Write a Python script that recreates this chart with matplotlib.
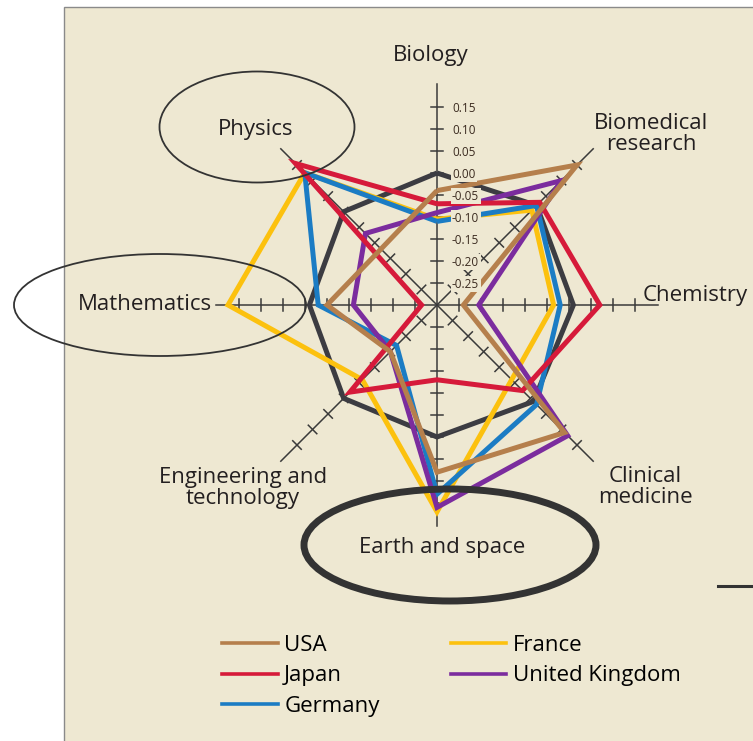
import numpy as np
import matplotlib
matplotlib.use("Agg")
import matplotlib.pyplot as plt
from matplotlib.patches import Ellipse, Rectangle
from matplotlib.lines import Line2D

plt.rcParams['font.family'] = ['Open Sans', 'DejaVu Sans']

# axes of the radar, clockwise from the top
fields = ['Biology', 'Biomedical\nresearch', 'Chemistry', 'Clinical\nmedicine',
          'Earth and space', 'Engineering and\ntechnology', 'Mathematics', 'Physics']

# values (same order as fields)
usa     = [-0.04, 0.15, -0.24, 0.11, 0.08, -0.15, -0.05, -0.12]
japan   = [-0.07, 0.03, 0.07, -0.025, -0.13, -0.02, -0.265, 0.155]
germany = [-0.11, 0.02, -0.02, 0.02, 0.13, -0.17, -0.03, 0.125]
france  = [-0.105, 0.005, -0.035, -0.06, 0.17, -0.06, 0.175, 0.125]
uk      = [-0.09, 0.10, -0.205, 0.12, 0.16, -0.15, -0.11, -0.07]
world   = [0.00, 0.02, 0.01, 0.01, 0.00, 0.00, -0.01, 0.00]   # dark line, not in legend

tick_vals = [-0.25, -0.20, -0.15, -0.10, -0.05, 0.00, 0.05, 0.10, 0.15]
tick_text = ['-0.25', '-0.20', '-0.15', '-0.10', '-0.05', '0.00', '0.05', '0.10', '0.15']

RMIN, RMAX = -0.30, 0.20
CX, CY = 437, 305          # centre of the radar in pixels
SCALE = 440                # pixels per unit
BEIGE = '#eee8d2'
INK = '#231f20'
AXC = '#3a3a3a'

angles = np.deg2rad(np.arange(len(fields)) * 45)


def polar(vals, ang):
    r = (np.asarray(vals) - RMIN) * SCALE
    return CX + r * np.sin(ang), CY - r * np.cos(ang)


fig = plt.figure(figsize=(7.53, 7.41), dpi=100)
fig.patch.set_facecolor('white')
ax = fig.add_axes([0, 0, 1, 1])
ax.set_xlim(0, 753)
ax.set_ylim(741, 0)
ax.axis('off')

# beige panel
ax.add_patch(Rectangle((64, 7), 700, 740, facecolor=BEIGE, edgecolor='#8a8a8a', lw=1, zorder=0))

# spokes and ticks
for a in angles:
    x, y = polar([RMIN, RMAX + 0.002], np.array([a, a]))
    ax.plot(x, y, color=AXC, lw=1.1, zorder=1)
    for tv in tick_vals:
        tx, ty = polar([tv], np.array([a]))
        px, py = np.cos(a) * 6, np.sin(a) * 6
        ax.plot([tx[0] - px, tx[0] + px], [ty[0] - py, ty[0] + py], color=AXC, lw=1.1, zorder=1)

series = [
    (world, '#3c3c42', None, 3),
    (france, '#fcc10e', 'France', 4),
    (germany, '#1b7cc4', 'Germany', 5),
    (uk, '#7b2c9e', 'United Kingdom', 6),
    (japan, '#d61a3a', 'Japan', 7),
    (usa, '#b57f4c', 'USA', 8),
]
colors = {}
for vals, col, name, z in series:
    x, y = polar(vals + vals[:1], np.append(angles, angles[0]))
    ax.plot(x, y, color=col, lw=3.6, zorder=z, solid_joinstyle='miter', solid_capstyle='butt')
    if name:
        colors[name] = col

# tick labels on the Biology spoke
for tv, tt in zip(tick_vals, tick_text):
    tx, ty = polar([tv], np.array([0.0]))
    ax.text(tx[0] + 15, ty[0] + 1, tt, fontsize=8.5, color='#3b2b20', ha='left', va='center',
            zorder=9, bbox=dict(boxstyle='square,pad=0.12', fc=BEIGE, ec='none'))

# field labels
label_pos = [(431, 55, 'center'), (651, 134, 'center'), (643, 296, 'left'), (645, 487, 'center'),
             (442, 548, 'center'), (243, 488, 'center'), (145, 305, 'center'), (256, 129, 'center')]
for name, (lx, ly, ha) in zip(fields, label_pos):
    ax.text(lx, ly, name, fontsize=16, color=INK, ha=ha, va='center', linespacing=0.95, zorder=11)

# highlight ellipses
ax.add_patch(Ellipse((257, 127), 195, 111, fill=False, ec='#333333', lw=1.3, zorder=10))
ax.add_patch(Ellipse((160, 305), 292, 102, fill=False, ec='#333333', lw=1.3, zorder=10))
ax.add_patch(Ellipse((450, 545), 292, 112, fill=False, ec='#333333', lw=5, zorder=10))
ax.plot([718, 753], [586, 586], color='#333333', lw=2.2, zorder=10)

# legend
order = ['USA', 'Japan', 'Germany', 'France', 'United Kingdom']
handles = [Line2D([], [], color=colors[n], lw=2.6) for n in order]
fig.legend(handles, order, loc='upper left', bbox_to_anchor=(222 / 753, 1 - 635 / 741),
           ncol=2, frameon=False, fontsize=16, handlelength=2.5, handletextpad=0.3,
           columnspacing=3.2, labelspacing=0.42, borderpad=0, borderaxespad=0)

fig.savefig('out.png', dpi=100, facecolor='white')
